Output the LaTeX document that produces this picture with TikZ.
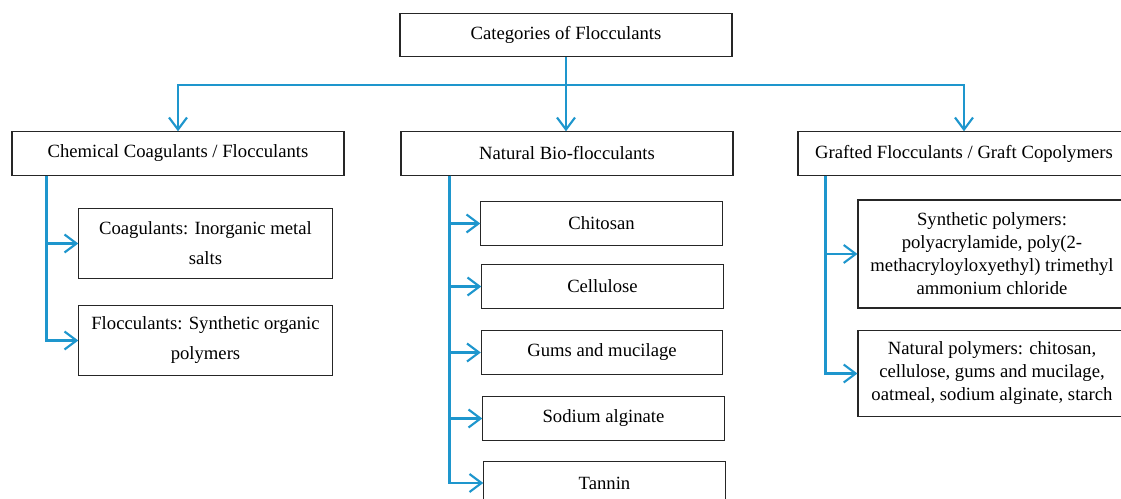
\documentclass[tikz,border=0pt]{standalone}
\usepackage{fontspec}
\setmainfont{Liberation Serif}
\usetikzlibrary{arrows.meta}

\definecolor{flowblue}{RGB}{30,150,205}

\begin{document}
\begin{tikzpicture}[x=0.75pt,y=-0.75pt,
    font=\fontsize{14}{17.25}\selectfont,
    box/.style={draw=black!85,line width=0.8pt,inner sep=2pt,align=center,
                minimum height=32.5pt},
    wide/.style={box,minimum width=249pt},
    item/.style={box,minimum width=181pt},
    link/.style={draw=flowblue,line width=1.6pt,
                 -{Straight Barb[length=9pt,width=13.5pt,line width=1.6pt]}}]
  \useasboundingbox (0,0) rectangle (1121,499);
  % top level
  \node [wide] (top) at (566,35) {Categories of Flocculants};
  \node [wide] (chem) at (178,153.5) {Chemical Coagulants / Flocculants};
  \node [wide] (natural) at (567,153.5) {Natural Bio-flocculants};
  \node [wide] (graft) at (964,153.5) {Grafted Flocculants / Graft Copolymers};
  % chemical
  \node [box,minimum width=190pt,minimum height=52pt,
         font=\fontsize{14}{22.5}\selectfont] (coag) at (205.5,243.5)
        {Coagulants: Inorganic metal\\salts};
  \node [box,minimum width=190pt,minimum height=52pt,
         font=\fontsize{14}{22.5}\selectfont] (flocc) at (205.5,340.5)
        {Flocculants: Synthetic organic\\polymers};
  % natural
  \node [item] (chito) at (601.5,223.5) {Chitosan};
  \node [item] (cellu) at (602.5,286.5) {Cellulose};
  \node [item] (gums) at (602,352.5) {Gums and mucilage};
  \node [item] (sodium) at (603.5,418.5) {Sodium alginate};
  \node [item] (tannin) at (604.5,483) {Tannin};
  % grafted
  \node [box,minimum width=201pt,minimum height=81pt] (synth) at (992,254)
        {Synthetic polymers:\\polyacrylamide, poly(2-\\methacryloyloxyethyl) trimethyl\\ammonium chloride};
  \node [box,minimum width=201pt,minimum height=65pt] (natpoly) at (992,373.5)
        {Natural polymers: chitosan,\\cellulose, gums and mucilage,\\oatmeal, sodium alginate, starch};
  % connectors
  \coordinate (bus) at (566,85);
  \draw [link,-] (top.south) -- (bus);
  \draw [link] (bus) -| (chem.north);
  \draw [link] (bus) -- (bus |- natural.north);
  \draw [link] (bus) -| (graft.north);
  \foreach \child in {coag,flocc}
    \draw [link] ([xshift=26.25pt]chem.south west) |- (\child.west);
  \foreach \child in {chito,cellu,gums,sodium,tannin}
    \draw [link] ([xshift=36.75pt]natural.south west) |- (\child.west);
  \foreach \child in {synth,natpoly}
    \draw [link] ([xshift=21pt]graft.south west) |- (\child.west);
\end{tikzpicture}
\end{document}
